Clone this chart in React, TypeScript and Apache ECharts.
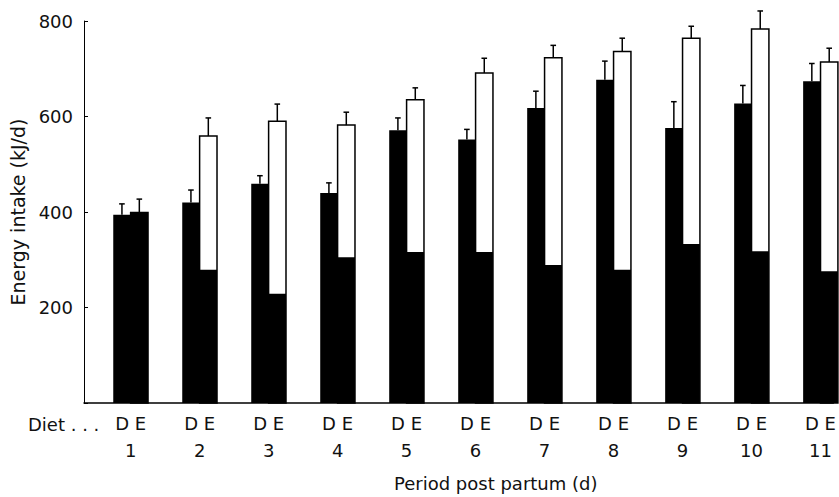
import React, { useEffect, useRef } from "react";
import * as echarts from "echarts";

// Period post partum (d)
const days = [1, 2, 3, 4, 5, 6, 7, 8, 9, 10, 11];
// Diet D: mean energy intake (kJ/d) and SE
const dietD = [394, 420, 459, 440, 571, 552, 618, 677, 576, 627, 674];
const dietDErr = [23, 26, 17, 21, 26, 21, 35, 39, 55, 38, 37];
// Diet E: total intake (kJ/d), SE and the black (lower) component
const dietE = [399, 559, 590, 582, 635, 691, 723, 736, 764, 783, 714];
const dietEErr = [28, 38, 36, 27, 25, 31, 26, 28, 25, 38, 29];
const dietEBlack = [399, 279, 229, 305, 316, 316, 289, 279, 333, 318, 276];
// y tick labels
const yTicks = [200, 400, 600, 800];

const FONT = "DejaVu Sans";

export default function App() {
  const ref = useRef<HTMLDivElement>(null);
  useEffect(() => {
    if (!ref.current) return;
    const chart = echarts.init(ref.current, null, { renderer: "svg" });
    const data = days.map((d, i) => [d, dietD[i], dietDErr[i], dietE[i], dietEBlack[i], dietEErr[i]]);
    const option: any = {
      animation: false,
      backgroundColor: "#fff",
      grid: { left: 84, right: 0, top: 21, bottom: 94 },
      xAxis: {
        type: "value",
        min: 0.324,
        max: 11.187,
        splitLine: { show: false },
        axisTick: { show: false },
        axisLine: { show: true, lineStyle: { color: "#000", width: 1.5 } },
        axisLabel: {
          customValues: days,
          margin: 7,
          color: "#111",
          fontFamily: FONT,
          fontSize: 18,
          formatter: (v: number) => `{de|D E}\n{n|${v}}`,
          rich: {
            de: { fontFamily: FONT, fontSize: 18, lineHeight: 27, color: "#111" },
            n: { fontFamily: FONT, fontSize: 18, lineHeight: 27, color: "#111" },
          },
        },
      },
      yAxis: {
        type: "value",
        min: 0,
        max: 800,
        interval: 200,
        splitLine: { show: false },
        axisLine: { show: true, lineStyle: { color: "#000", width: 1 } },
        axisTick: { show: true, inside: true, length: 4, lineStyle: { color: "#000" } },
        axisLabel: {
          margin: 11,
          color: "#111",
          fontFamily: FONT,
          fontSize: 18,
          formatter: (v: number) => (yTicks.indexOf(v) >= 0 ? String(v) : ""),
        },
        name: "Energy intake (kJ/d)",
        nameLocation: "middle",
        nameGap: 57,
        nameTextStyle: { fontFamily: FONT, fontSize: 19, color: "#111" },
      },
      graphic: [
        {
          type: "text",
          x: 28,
          y: 424,
          style: { text: "Diet . . .", font: `18px '${FONT}'`, fill: "#111", verticalAlign: "middle" },
        },
        {
          type: "text",
          x: 394,
          y: 483,
          style: { text: "Period post partum (d)", font: `18px '${FONT}'`, fill: "#111", verticalAlign: "middle" },
        },
      ],
      series: [
        {
          type: "custom",
          clip: false,
          encode: { x: 0, y: [1, 3] },
          data,
          renderItem: (params: any, api: any) => {
            const x = api.value(0);
            const d = api.value(1);
            const dErr = api.value(2);
            const e = api.value(3);
            const eBlack = api.value(4);
            const eErr = api.value(5);
            const unit = api.size([1, 0])[0];
            const w = unit * 0.252;
            const base = api.coord([x, 0]);
            const cx = base[0];
            const y0 = base[1];
            const yD = api.coord([x, d])[1];
            const yDe = api.coord([x, d + dErr])[1];
            const yE = api.coord([x, e])[1];
            const yEb = api.coord([x, eBlack])[1];
            const yEe = api.coord([x, e + eErr])[1];
            const dc = cx - w / 2;
            const ec = cx + w / 2;
            const ls = { stroke: "#000", lineWidth: 1.5 };
            const cap = 2.8;
            return {
              type: "group",
              children: [
                { type: "rect", shape: { x: cx - w, y: yD, width: w, height: y0 - yD }, style: { fill: "#000" } },
                {
                  type: "rect",
                  shape: { x: cx, y: yE, width: w, height: y0 - yE },
                  style: { fill: "#fff", stroke: "#000", lineWidth: 1.5 },
                },
                { type: "rect", shape: { x: cx, y: yEb, width: w, height: y0 - yEb }, style: { fill: "#000" } },
                { type: "line", shape: { x1: dc, y1: yD, x2: dc, y2: yDe }, style: ls },
                { type: "line", shape: { x1: dc - cap, y1: yDe, x2: dc + cap, y2: yDe }, style: ls },
                { type: "line", shape: { x1: ec, y1: yE, x2: ec, y2: yEe }, style: ls },
                { type: "line", shape: { x1: ec - cap, y1: yEe, x2: ec + cap, y2: yEe }, style: ls },
              ],
            };
          },
        },
      ],
    };
    chart.setOption(option);
    return () => chart.dispose();
  }, []);
  return (
    <div
      ref={ref}
      style={{ position: "fixed", left: 0, top: 0, width: 839, height: 497, background: "#fff" }}
    />
  );
}
